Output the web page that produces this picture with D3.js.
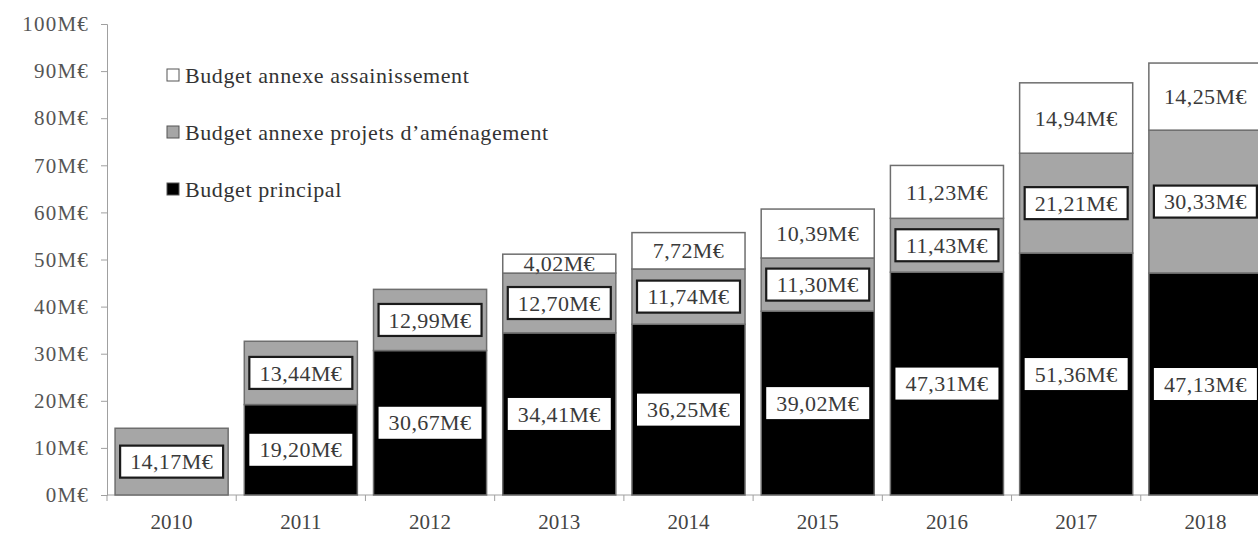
<!DOCTYPE html>
<html>
<head>
<meta charset="utf-8">
<script src="https://cdn.jsdelivr.net/npm/d3@7"></script>
<style>
  html, body { margin: 0; padding: 0; background: #fff; }
  svg { display: block; font-family: "Liberation Serif", "DejaVu Serif", serif; }
</style>
</head>
<body>
<svg id="chart" width="1258" height="533"></svg>
<script>
// Budget values in millions of euros, per year
const years = ["2010", "2011", "2012", "2013", "2014", "2015", "2016", "2017", "2018"];
const principal = [0, 19.20, 30.67, 34.41, 36.25, 39.02, 47.31, 51.36, 47.13];
const amenagement = [14.17, 13.44, 12.99, 12.70, 11.74, 11.30, 11.43, 21.21, 30.33];
const assainissement = [0, 0, 0, 4.02, 7.72, 10.39, 11.23, 14.94, 14.25];
const yTicks = [0, 10, 20, 30, 40, 50, 60, 70, 80, 90, 100];

const seriesNames = ["Budget principal", "Budget annexe projets d’aménagement", "Budget annexe assainissement"];
const seriesKeys = ["principal", "amenagement", "assainissement"];
const seriesColors = { principal: "#000000", amenagement: "#a6a6a6", assainissement: "#ffffff" };

const table = years.map((y, i) => ({
  year: y,
  principal: principal[i],
  amenagement: amenagement[i],
  assainissement: assainissement[i]
}));

const svg = d3.select("#chart");
const fmt = v => d3.format(".2f")(v).replace(".", ",") + "M€";

const x = d3.scaleBand().domain(years).range([107, 1270]).paddingInner(0.125).paddingOuter(0.0625);
const y = d3.scaleLinear().domain([0, 100]).range([495, 24]);

// Y axis
const yAxis = svg.append("g").attr("transform", "translate(107,0)")
  .call(d3.axisLeft(y).tickValues(yTicks).tickSize(6).tickPadding(12).tickFormat(d => d + "M€"));
yAxis.select(".domain").attr("stroke", "#a0a0a0");
yAxis.selectAll(".tick line").attr("stroke", "#a0a0a0");
yAxis.selectAll(".tick text").attr("font-size", 21).attr("fill", "#555")
  .attr("letter-spacing", 1.2)
  .attr("font-family", "Liberation Serif, serif");

// X axis with ticks on category boundaries
const xg = svg.append("g");
xg.append("line").attr("x1", 107).attr("x2", 1270).attr("y1", y(0)).attr("y2", y(0)).attr("stroke", "#a0a0a0");
const bounds = years.map((d, i) => x(d) - x.step() * x.paddingInner() / 2).concat([1270]);
xg.selectAll("line.tk").data(bounds).join("line").attr("class", "tk")
  .attr("x1", d => d).attr("x2", d => d).attr("y1", y(0)).attr("y2", y(0) + 6).attr("stroke", "#a0a0a0");
xg.selectAll("text").data(years).join("text")
  .attr("x", d => x(d) + x.bandwidth() / 2).attr("y", 529)
  .attr("text-anchor", "middle").attr("font-size", 21).attr("fill", "#444").text(d => d);

// Stacked bars
const stack = d3.stack().keys(seriesKeys)(table);
const layers = svg.append("g");
stack.forEach(layer => {
  const key = layer.key;
  layers.append("g").selectAll("rect").data(layer.filter(d => d[1] - d[0] > 0)).join("rect")
    .attr("x", d => x(d.data.year))
    .attr("width", x.bandwidth())
    .attr("y", d => y(d[1]))
    .attr("height", d => y(d[0]) - y(d[1]))
    .attr("fill", seriesColors[key])
    .attr("stroke", "#6e6e6e").attr("stroke-width", 1.5);
});

// Value labels
const bw = 103, bh = 32;
stack.forEach(layer => {
  const key = layer.key;
  const g = svg.append("g");
  layer.filter(d => d[1] - d[0] > 0).forEach(d => {
    const cx = x(d.data.year) + x.bandwidth() / 2;
    const cy = (y(d[0]) + y(d[1])) / 2;
    if (key !== "assainissement") {
      g.append("rect").attr("x", cx - bw / 2).attr("y", cy - bh / 2).attr("width", bw).attr("height", bh)
        .attr("fill", "#fff")
        .attr("stroke", key === "amenagement" ? "#1a1a1a" : "none")
        .attr("stroke-width", 2.2);
    }
    g.append("text").attr("x", cx).attr("y", cy).attr("dy", "0.35em")
      .attr("text-anchor", "middle").attr("font-size", 22).attr("fill", "#3a3a3a")
      .attr("letter-spacing", 0.4)
      .text(fmt(d[1] - d[0]));
  });
});

// Legend
const legendOrder = [2, 1, 0];
const legend = svg.append("g");
legendOrder.forEach((s, i) => {
  const ly = 75 + i * 57;
  legend.append("rect").attr("x", 167).attr("y", ly - 6).attr("width", 12).attr("height", 12)
    .attr("fill", seriesColors[seriesKeys[s]]).attr("stroke", "#555").attr("stroke-width", 1);
  legend.append("text").attr("x", 185).attr("y", ly).attr("dy", "0.35em")
    .attr("font-size", 22).attr("letter-spacing", 0.6).attr("fill", "#333").text(seriesNames[s]);
});
</script>
</body>
</html>
